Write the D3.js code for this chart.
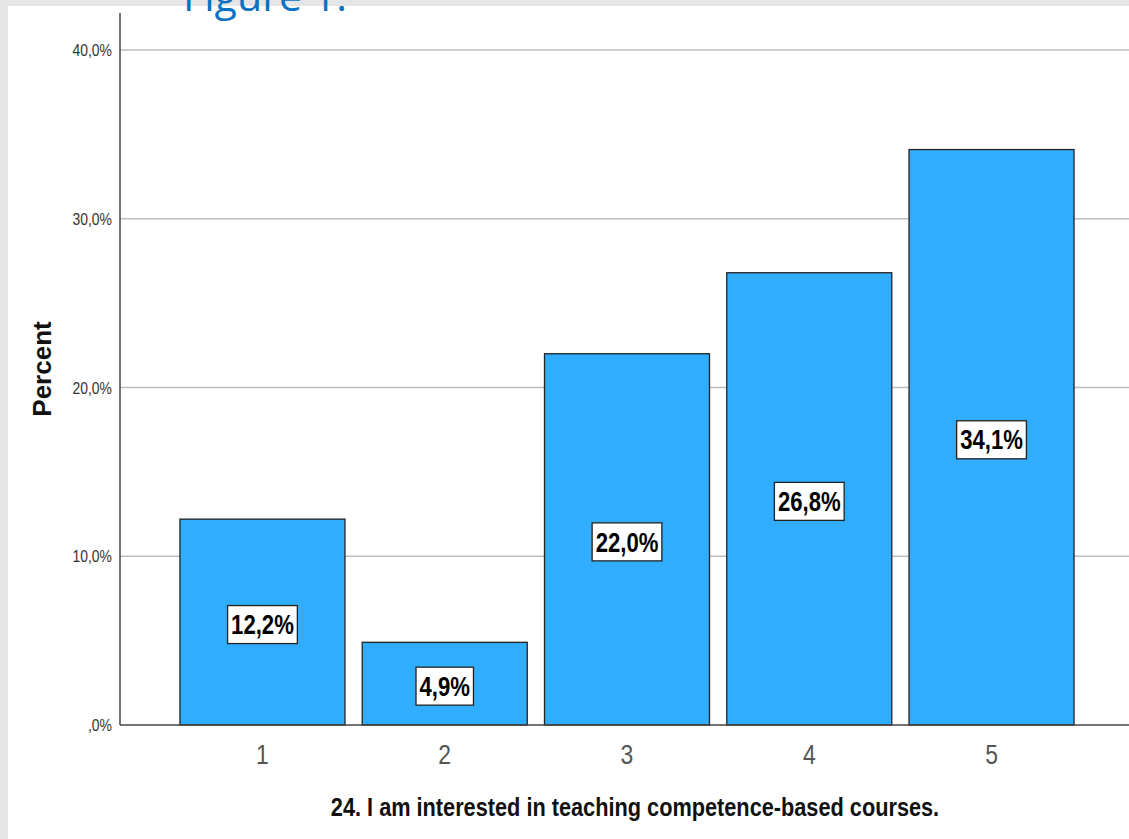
<!DOCTYPE html>
<html><head><meta charset="utf-8">
<script src="https://cdn.jsdelivr.net/npm/d3@7"></script>
<style>body{margin:0;background:#e5e5e5;overflow:hidden} svg{display:block}</style>
</head><body><svg id="c" width="1129" height="839"></svg>
<script>
const categories = ["1", "2", "3", "4", "5"];
const percents = [12.2, 4.9, 22.0, 26.8, 34.1];
const valueLabels = ["12,2%", "4,9%", "22,0%", "26,8%", "34,1%"];
const yTicks = [0, 10, 20, 30, 40];
const yTickLabels = [",0%", "10,0%", "20,0%", "30,0%", "40,0%"];
const xTitle = "24. I am interested in teaching competence-based courses.";
const yTitle = "Percent";
const caption = "Figure 1.";

const W = 1129, H = 839;
const svg = d3.select("#c");
const FONT = "'Liberation Sans', Arial, sans-serif";
const NARROW = 0.82;

// background panels
svg.append("rect").attr("x", 0).attr("y", 0).attr("width", W).attr("height", H).attr("fill", "#e5e5e5");
svg.append("rect").attr("x", 8).attr("y", 6).attr("width", W - 8).attr("height", H - 6).attr("fill", "#ffffff");

// caption (cut off at top, as in the reference)
svg.append("text").attr("x", 183).attr("y", 11)
  .attr("font-family", "'Open Sans', 'Noto Sans', sans-serif").attr("font-size", 40)
  .attr("fill", "#0b72c3").attr("textLength", 164).attr("lengthAdjust", "spacingAndGlyphs")
  .text(caption);

const x0 = 120, xEnd = 1134, y0 = 725;
const x = d3.scaleBand().domain(categories).range([x0, xEnd]).paddingInner(0.0947).paddingOuter(0.329);
const y = d3.scaleLinear().domain([0, 40]).range([y0, 50]);

// gridlines
svg.append("g").selectAll("line").data(yTicks.filter(t => t > 0)).join("line")
  .attr("x1", x0).attr("x2", W).attr("y1", d => y(d)).attr("y2", d => y(d))
  .attr("stroke", "#bdbdbd").attr("stroke-width", 1.5);

// y tick labels
svg.append("g").selectAll("text").data(yTicks).join("text")
  .attr("transform", d => `translate(112,${y(d) + 6}) scale(${NARROW},1)`)
  .attr("text-anchor", "end").attr("font-family", FONT).attr("font-size", 17).attr("fill", "#333")
  .text((d, i) => yTickLabels[i]);

// bars
svg.append("g").selectAll("rect").data(percents).join("rect")
  .attr("x", (d, i) => x(categories[i])).attr("width", x.bandwidth())
  .attr("y", d => y(d)).attr("height", d => y0 - y(d))
  .attr("fill", "#31adff").attr("stroke", "#222").attr("stroke-width", 1.3);

// axes lines
svg.append("line").attr("x1", x0).attr("x2", x0).attr("y1", 13).attr("y2", y0)
  .attr("stroke", "#444").attr("stroke-width", 1.5);
svg.append("line").attr("x1", x0).attr("x2", W).attr("y1", y0).attr("y2", y0)
  .attr("stroke", "#444").attr("stroke-width", 1.5);

// value labels
const lg = svg.append("g");
percents.forEach((v, i) => {
  const cx = x(categories[i]) + x.bandwidth() / 2;
  const cy = y(v / 2) + 2.5;
  const g = lg.append("g");
  const box = g.append("rect");
  const t = g.append("text")
    .attr("transform", `translate(${cx},${cy + 9.7}) scale(${NARROW},1)`)
    .attr("text-anchor", "middle").attr("font-family", FONT).attr("font-weight", "bold")
    .attr("font-size", 27).attr("fill", "#000").text(valueLabels[i]);
  const tw = t.node().getComputedTextLength() * NARROW;
  box.attr("x", cx - tw / 2 - 3.5).attr("width", tw + 7)
    .attr("y", cy - 19).attr("height", 38)
    .attr("fill", "#fff").attr("stroke", "#222").attr("stroke-width", 1.3);
});

// x tick labels
svg.append("g").selectAll("text").data(categories).join("text")
  .attr("transform", d => `translate(${x(d) + x.bandwidth() / 2},764) scale(${NARROW},1)`)
  .attr("text-anchor", "middle").attr("font-family", FONT).attr("font-size", 28).attr("fill", "#555")
  .text(d => d);

// x title
svg.append("text").attr("transform", `translate(635,816) scale(${NARROW},1)`)
  .attr("text-anchor", "middle").attr("font-family", FONT).attr("font-weight", "bold")
  .attr("font-size", 26.5).attr("fill", "#111").text(xTitle);

// y title
svg.append("text").attr("transform", "translate(51,369) rotate(-90)")
  .attr("text-anchor", "middle").attr("font-family", FONT).attr("font-weight", "bold")
  .attr("font-size", 26).attr("fill", "#111").text(yTitle);
</script>
</body></html>
